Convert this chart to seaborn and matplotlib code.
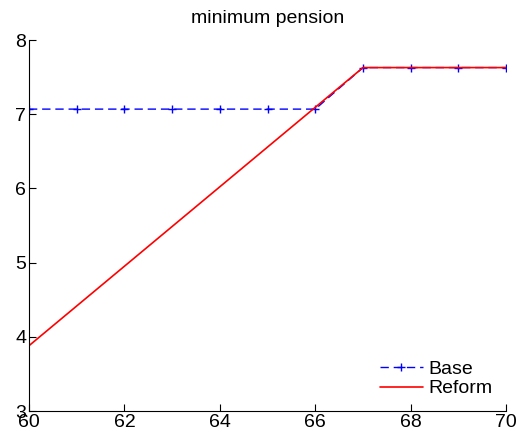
import numpy as np
import pandas as pd
import seaborn as sns
import matplotlib.pyplot as plt

# minimum pension by retirement age
ages = [60, 61, 62, 63, 64, 65, 66, 67, 68, 69, 70]
base = [7.07, 7.07, 7.07, 7.07, 7.07, 7.07, 7.07, 7.63, 7.63, 7.63, 7.63]
reform_ages = [60, 67, 68, 69, 70]
reform = [3.88, 7.63, 7.63, 7.63, 7.63]

sns.set_style("ticks")
plt.rcParams['font.family'] = ['Liberation Sans', 'DejaVu Sans']
plt.rcParams['font.size'] = 14
plt.rcParams['text.color'] = 'black'
plt.rcParams['xtick.color'] = 'black'
plt.rcParams['ytick.color'] = 'black'

df_base = pd.DataFrame({'age': ages, 'value': base})
df_ref = pd.DataFrame({'age': reform_ages, 'value': reform})

fig = plt.figure(figsize=(5.17, 4.41), dpi=100)
ax = fig.add_axes([0.056, 0.068, 0.923, 0.841])

sns.lineplot(data=df_base, x='age', y='value', ax=ax, color='blue', linestyle=(0, (6, 3.5)),
             marker='+', markersize=6, markeredgewidth=1, markeredgecolor='blue',
             linewidth=1, label='Base')
sns.lineplot(data=df_ref, x='age', y='value', ax=ax, color='red', linestyle='-',
             linewidth=1.2, label='Reform')

ax.set_xlim(60, 70)
ax.set_ylim(3, 8)
ax.set_xticks([60, 62, 64, 66, 68, 70])
ax.set_yticks([3, 4, 5, 6, 7, 8])
ax.set_xlabel('')
ax.set_ylabel('')
ax.set_title('minimum pension', fontsize=14, pad=12)
ax.tick_params(direction='in', length=5, width=0.8, labelsize=14, pad=2)
sns.despine(ax=ax)
for s in ['left', 'bottom']:
    ax.spines[s].set_linewidth(0.8)
    ax.spines[s].set_color('black')

ax.legend(loc='lower right', frameon=False, fontsize=14, handlelength=2.2,
          handletextpad=0.3, labelspacing=0.1, borderaxespad=0.3)

fig.savefig('out.png', dpi=100)
